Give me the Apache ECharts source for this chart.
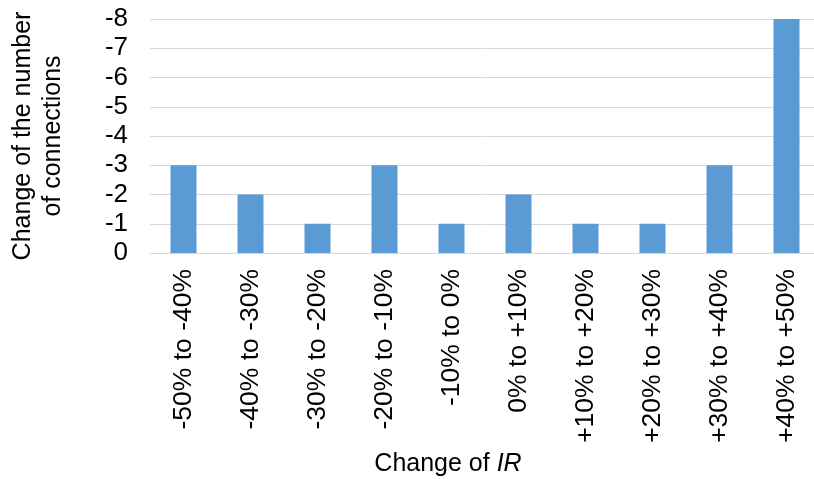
<!DOCTYPE html>
<html>
<head>
<meta charset="utf-8">
<script src="https://cdn.jsdelivr.net/npm/echarts@6/dist/echarts.min.js"></script>
<style>
  html, body { margin: 0; padding: 0; background: #fff; }
  #chart { width: 814px; height: 479px; }
</style>
</head>
<body>
<div id="chart"></div>
<script>
// bins of IR change
const categories = ['-50% to -40%', '-40% to -30%', '-30% to -20%', '-20% to -10%', '-10% to 0%',
  '0% to +10%', '+10% to +20%', '+20% to +30%', '+30% to +40%', '+40% to +50%'];
// change of the number of connections
const changes = [-3, -2, -1, -3, -1, -2, -1, -1, -3, -8];

const chart = echarts.init(document.getElementById('chart'));
const font = 'Liberation Sans, Arial, sans-serif';

chart.setOption({
  animation: false,
  textStyle: { fontFamily: font, color: '#000' },
  grid: { left: 150, right: -6, top: 19, bottom: 226, outerBoundsMode: 'none', containLabel: false },
  xAxis: {
    type: 'category',
    data: categories,
    axisLine: { lineStyle: { color: '#d9d9d9', width: 1 } },
    axisTick: { show: false },
    axisLabel: { rotate: 90, fontSize: 26.5, color: '#000', margin: 16, fontFamily: font },
    name: '{a|Change of }{b|IR}',
    nameLocation: 'middle',
    nameGap: 199,
    nameTextStyle: {
      padding: [0, 74, 0, 0],
      rich: {
        a: { fontSize: 25, color: '#000', fontFamily: font },
        b: { fontSize: 25, color: '#000', fontStyle: 'italic', fontFamily: font }
      }
    }
  },
  yAxis: {
    type: 'value',
    inverse: true,
    min: -8,
    max: 0,
    interval: 1,
    axisLine: { show: false },
    axisTick: { show: false },
    splitLine: { lineStyle: { color: '#d9d9d9', width: 1 } },
    axisLabel: { fontSize: 26, color: '#000', margin: 22, fontFamily: font },
    name: 'Change of the number\nof connections',
    nameLocation: 'middle',
    nameGap: 82,
    nameTextStyle: { fontSize: 25, color: '#000', lineHeight: 30, fontFamily: font }
  },
  series: [{
    type: 'bar',
    data: changes,
    barWidth: 26,
    itemStyle: { color: '#5b9bd5' }
  }]
});
</script>
</body>
</html>
